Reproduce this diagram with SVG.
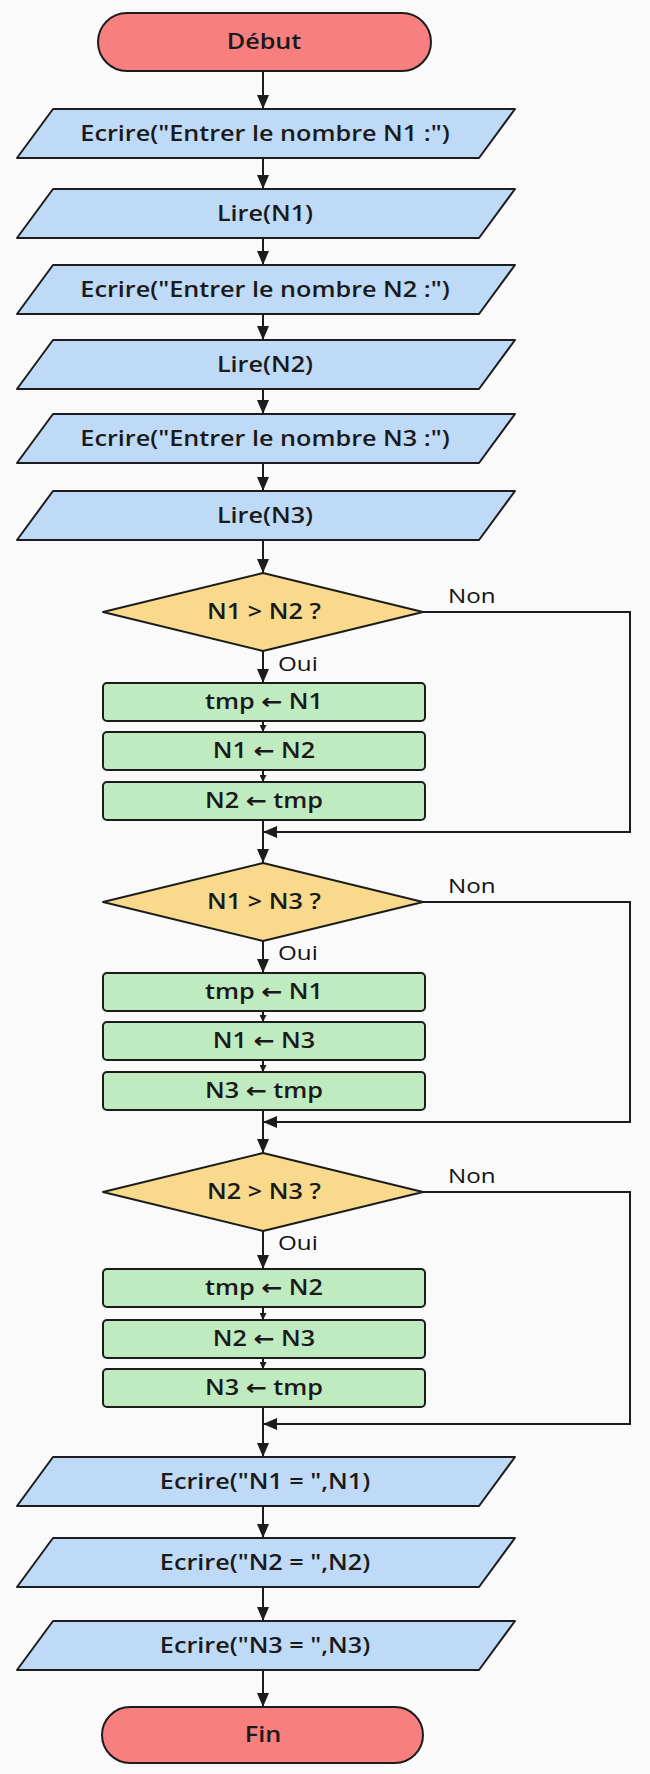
<svg xmlns="http://www.w3.org/2000/svg" width="650" height="1774" viewBox="0 0 650 1774">
<style>
.bg{fill:#fafafa}
.term{fill:#f77f7f;stroke:#1c1c1c;stroke-width:2}
.io{fill:#bfdaf7;stroke:#1c1c1c;stroke-width:2;stroke-linejoin:round}
.dec{fill:#f9da8c;stroke:#1c1c1c;stroke-width:2;stroke-linejoin:round}
.proc{fill:#c0ebc0;stroke:#1c1c1c;stroke-width:2}
.t{font-family:"Open Sans","Noto Sans","DejaVu Sans",sans-serif;font-size:21px;fill:#1a1a1a;text-anchor:middle;font-weight:600}
.lbl{font-family:"Open Sans","Noto Sans","DejaVu Sans",sans-serif;font-size:20.5px;fill:#111;font-weight:400}
.c{fill:none;stroke:#1c1c1c;stroke-width:2}
</style>
<defs>
<marker id="ah" markerUnits="userSpaceOnUse" markerWidth="14" markerHeight="12" refX="14" refY="6" orient="auto">
<path d="M0,0 L14,6 L0,12 Z" fill="#1c1c1c"/>
</marker>
<marker id="ahs" markerUnits="userSpaceOnUse" markerWidth="7" markerHeight="7" refX="7" refY="3.5" orient="auto">
<path d="M0,0 L7,3.5 L0,7 Z" fill="#1c1c1c"/>
</marker>
</defs>
<rect class="bg" x="0" y="0" width="650" height="1774"/>

<g id="connectors">
<path class="c" marker-end="url(#ah)" d="M263,71 V109"/>
<path class="c" marker-end="url(#ah)" d="M263,158 V189"/>
<path class="c" marker-end="url(#ah)" d="M263,238 V265"/>
<path class="c" marker-end="url(#ah)" d="M263,314 V340"/>
<path class="c" marker-end="url(#ah)" d="M263,389 V414"/>
<path class="c" marker-end="url(#ah)" d="M263,463 V491"/>
<path class="c" marker-end="url(#ah)" d="M263,540 V573"/>
<path class="c" marker-end="url(#ah)" d="M263,651 V683"/>
<path class="c" marker-end="url(#ahs)" d="M263,721 V732"/>
<path class="c" marker-end="url(#ahs)" d="M263,770 V782"/>
<path class="c" marker-end="url(#ah)" d="M263,820 V863"/>
<path class="c" marker-end="url(#ah)" d="M423,612 H630 V832 H263"/>
<path class="c" marker-end="url(#ah)" d="M263,941 V973"/>
<path class="c" marker-end="url(#ahs)" d="M263,1011 V1022"/>
<path class="c" marker-end="url(#ahs)" d="M263,1060 V1072"/>
<path class="c" marker-end="url(#ah)" d="M263,1110 V1153"/>
<path class="c" marker-end="url(#ah)" d="M423,902 H630 V1122 H263"/>
<path class="c" marker-end="url(#ah)" d="M263,1231 V1269"/>
<path class="c" marker-end="url(#ahs)" d="M263,1307 V1320"/>
<path class="c" marker-end="url(#ahs)" d="M263,1358 V1369"/>
<path class="c" marker-end="url(#ah)" d="M263,1407 V1457"/>
<path class="c" marker-end="url(#ah)" d="M423,1192 H630 V1424 H263"/>
<path class="c" marker-end="url(#ah)" d="M263,1506 V1538"/>
<path class="c" marker-end="url(#ah)" d="M263,1587 V1621"/>
<path class="c" marker-end="url(#ah)" d="M263,1670 V1707"/>
<text class="lbl" transform="translate(448 603) scale(1.18 1)">Non</text>
<text class="lbl" transform="translate(278 671) scale(1.18 1)">Oui</text>
<text class="lbl" transform="translate(448 893) scale(1.18 1)">Non</text>
<text class="lbl" transform="translate(278 960) scale(1.18 1)">Oui</text>
<text class="lbl" transform="translate(448 1183) scale(1.18 1)">Non</text>
<text class="lbl" transform="translate(278 1250) scale(1.18 1)">Oui</text>
</g>

<g id="debut">
<rect class="term" x="98" y="13" width="333" height="58" rx="29"/>
<text class="t" transform="translate(264 49) scale(1.2 1)">Début</text>
</g>
<g id="ecrire1">
<polygon class="io" points="53,109 515,109 479,158 17,158"/>
<text class="t" transform="translate(265 140.5) scale(1.2 1)">Ecrire("Entrer le nombre N1 :")</text>
</g>
<g id="lire1">
<polygon class="io" points="53,189 515,189 479,238 17,238"/>
<text class="t" transform="translate(265 220.5) scale(1.2 1)">Lire(N1)</text>
</g>
<g id="ecrire2">
<polygon class="io" points="53,265 515,265 479,314 17,314"/>
<text class="t" transform="translate(265 296.5) scale(1.2 1)">Ecrire("Entrer le nombre N2 :")</text>
</g>
<g id="lire2">
<polygon class="io" points="53,340 515,340 479,389 17,389"/>
<text class="t" transform="translate(265 371.5) scale(1.2 1)">Lire(N2)</text>
</g>
<g id="ecrire3">
<polygon class="io" points="53,414 515,414 479,463 17,463"/>
<text class="t" transform="translate(265 445.5) scale(1.2 1)">Ecrire("Entrer le nombre N3 :")</text>
</g>
<g id="lire3">
<polygon class="io" points="53,491 515,491 479,540 17,540"/>
<text class="t" transform="translate(265 522.5) scale(1.2 1)">Lire(N3)</text>
</g>

<g id="dec1">
<polygon class="dec" points="263,573 423,612 263,651 103,612"/>
<text class="t" transform="translate(264 619) scale(1.2 1)">N1 &gt; N2 ?</text>
</g>
<g id="p1a">
<rect class="proc" x="103" y="683" width="322" height="38" rx="4"/>
<text class="t" transform="translate(264 709) scale(1.2 1)">tmp ← N1</text>
</g>
<g id="p1b">
<rect class="proc" x="103" y="732" width="322" height="38" rx="4"/>
<text class="t" transform="translate(264 758) scale(1.2 1)">N1 ← N2</text>
</g>
<g id="p1c">
<rect class="proc" x="103" y="782" width="322" height="38" rx="4"/>
<text class="t" transform="translate(264 808) scale(1.2 1)">N2 ← tmp</text>
</g>

<g id="dec2">
<polygon class="dec" points="263,863 423,902 263,941 103,902"/>
<text class="t" transform="translate(264 909) scale(1.2 1)">N1 &gt; N3 ?</text>
</g>
<g id="p2a">
<rect class="proc" x="103" y="973" width="322" height="38" rx="4"/>
<text class="t" transform="translate(264 999) scale(1.2 1)">tmp ← N1</text>
</g>
<g id="p2b">
<rect class="proc" x="103" y="1022" width="322" height="38" rx="4"/>
<text class="t" transform="translate(264 1048) scale(1.2 1)">N1 ← N3</text>
</g>
<g id="p2c">
<rect class="proc" x="103" y="1072" width="322" height="38" rx="4"/>
<text class="t" transform="translate(264 1098) scale(1.2 1)">N3 ← tmp</text>
</g>

<g id="dec3">
<polygon class="dec" points="263,1153 423,1192 263,1231 103,1192"/>
<text class="t" transform="translate(264 1199) scale(1.2 1)">N2 &gt; N3 ?</text>
</g>
<g id="p3a">
<rect class="proc" x="103" y="1269" width="322" height="38" rx="4"/>
<text class="t" transform="translate(264 1295) scale(1.2 1)">tmp ← N2</text>
</g>
<g id="p3b">
<rect class="proc" x="103" y="1320" width="322" height="38" rx="4"/>
<text class="t" transform="translate(264 1346) scale(1.2 1)">N2 ← N3</text>
</g>
<g id="p3c">
<rect class="proc" x="103" y="1369" width="322" height="38" rx="4"/>
<text class="t" transform="translate(264 1395) scale(1.2 1)">N3 ← tmp</text>
</g>

<g id="ecrireN1">
<polygon class="io" points="53,1457 515,1457 479,1506 17,1506"/>
<text class="t" transform="translate(265 1488.5) scale(1.2 1)">Ecrire("N1 = ",N1)</text>
</g>
<g id="ecrireN2">
<polygon class="io" points="53,1538 515,1538 479,1587 17,1587"/>
<text class="t" transform="translate(265 1569.5) scale(1.2 1)">Ecrire("N2 = ",N2)</text>
</g>
<g id="ecrireN3">
<polygon class="io" points="53,1621 515,1621 479,1670 17,1670"/>
<text class="t" transform="translate(265 1652.5) scale(1.2 1)">Ecrire("N3 = ",N3)</text>
</g>
<g id="fin">
<rect class="term" x="102" y="1707" width="321" height="56" rx="28"/>
<text class="t" transform="translate(263 1742) scale(1.2 1)">Fin</text>
</g>
</svg>
